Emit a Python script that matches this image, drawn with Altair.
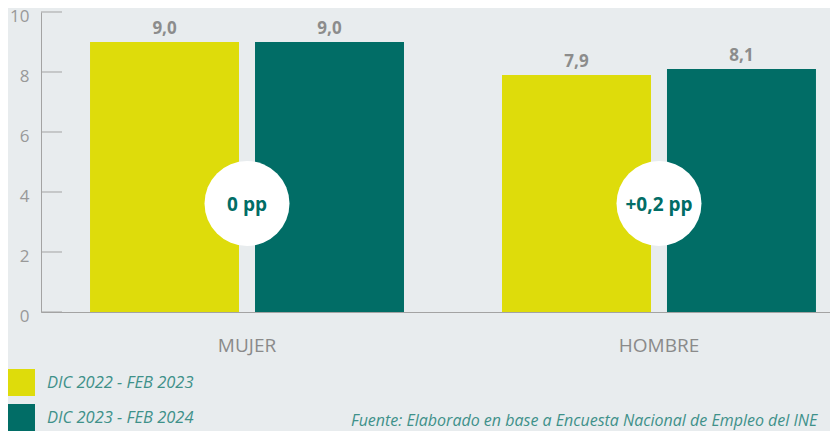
import altair as alt
import pandas as pd

categories = ["MUJER", "HOMBRE"]
periods = ["DIC 2022 - FEB 2023", "DIC 2023 - FEB 2024"]
values_p1 = [9.0, 7.9]
values_p2 = [9.0, 8.1]
changes = ["0 pp", "+0,2 pp"]
y_ticks = [0, 2, 4, 6, 8, 10]
colors = ["#dedc0b", "#016d66"]
source_note = "Fuente: Elaborado en base a Encuesta Nacional de Empleo del INE"

GRAY = "#a3a3a3"
FONT = "Open Sans"

rows = []
for i, c in enumerate(categories):
    for p, vals in zip(periods, [values_p1, values_p2]):
        rows.append({"cat": c, "period": p, "value": vals[i],
                     "label": f"{vals[i]:.1f}".replace(".", ",")})
df = pd.DataFrame(rows)
df_change = pd.DataFrame({"cat": categories, "change": changes})
df_ticks = pd.DataFrame({"v": y_ticks})
df_note = pd.DataFrame({"note": [source_note]})

x_scale = alt.Scale(paddingInner=0.2379, paddingOuter=0.119, range=[0, 824])
x_enc = alt.X(
    "cat:N", sort=categories, scale=x_scale,
    axis=alt.Axis(title=None, labelAngle=0, ticks=False, tickSize=0,
                  domainColor=GRAY, domainWidth=1, labelFontSize=19,
                  labelColor="#8a8a8a", labelPadding=24, labelFont=FONT),
)
x_plain = alt.X("cat:N", sort=categories, title=None)
xoff = alt.XOffset("period:N", sort=periods,
                   scale=alt.Scale(paddingInner=0.097, paddingOuter=0))
y_enc = alt.Y(
    "value:Q", scale=alt.Scale(domain=[0, 10], nice=False),
    axis=alt.Axis(values=y_ticks, title=None, ticks=False, tickSize=0, grid=False,
                  labelFontSize=17, labelColor="#999999", labelPadding=12,
                  labelOffset=4, labelFont=FONT, domainColor=GRAY, domainWidth=1),
)

bars = alt.Chart(df).mark_bar().encode(
    x=x_enc, xOffset=xoff, y=y_enc,
    color=alt.Color(
        "period:N", sort=periods,
        scale=alt.Scale(domain=periods, range=colors),
        legend=alt.Legend(
            orient="none", legendX=-33, legendY=357, title=None,
            symbolType="square", symbolSize=729, symbolStrokeWidth=0,
            symbolOpacity=1, labelFont=FONT, labelFontSize=16.5,
            labelFontStyle="italic", labelColor="#3f918a", labelOffset=12,
            rowPadding=8, direction="vertical", labelLimit=400, padding=0,
        ),
    ),
)

ticks = alt.Chart(df_ticks).mark_rule(color=GRAY, strokeWidth=1).encode(
    y=alt.Y("v:Q", title=None), x=alt.value(0), x2=alt.value(21)
)

value_text = alt.Chart(df).mark_text(
    font=FONT, fontWeight="bold", fontSize=17, color="#8c8c8c",
    baseline="alphabetic", dy=-8,
).encode(x=x_plain, xOffset=alt.XOffset("period:N", sort=periods),
         y=alt.Y("value:Q", title=None), text="label:N")

circles = alt.Chart(df_change).mark_point(
    filled=True, shape="circle", size=7225, color="white", opacity=1
).encode(x=x_plain, y=alt.value(191.5))

circle_text = alt.Chart(df_change).mark_text(
    font=FONT, fontWeight="bold", fontSize=19, color="#016d66",
    baseline="alphabetic",
).encode(x=x_plain, y=alt.value(199), text="change:N")

note = alt.Chart(df_note).mark_text(
    align="left", baseline="alphabetic", font=FONT, fontStyle="italic",
    fontSize=16, color="#3f918a",
).encode(x=alt.value(310), y=alt.value(414), text="note:N")

chart = alt.layer(bars, ticks, value_text, circles, circle_text, note).properties(
    width=789, height=300,
    autosize=alt.AutoSizeParams(type="none"),
    padding={"left": 33, "top": 4, "right": 0, "bottom": 119},
    background="#e8ecee",
).configure_view(stroke=None)

chart.save("out.html", embed_options={"renderer": "svg", "actions": False})
